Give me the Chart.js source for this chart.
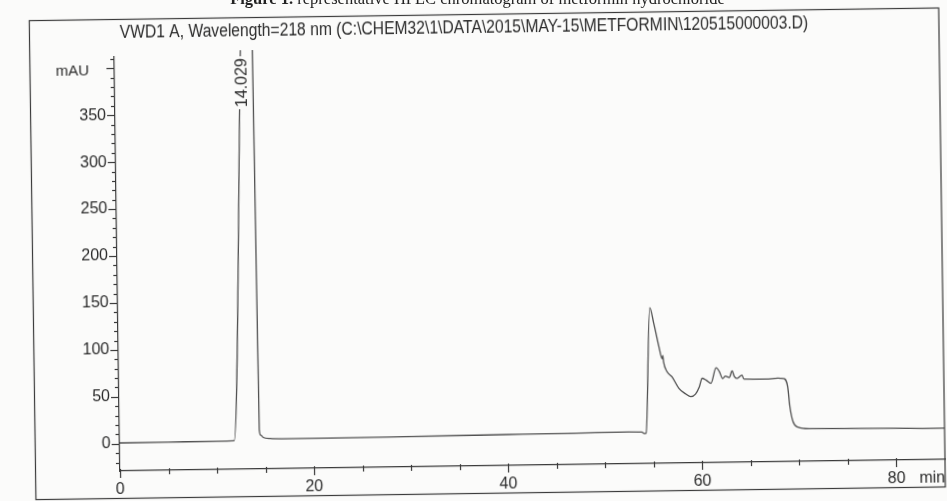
<!DOCTYPE html>
<html>
<head>
<meta charset="utf-8">
<script src="https://cdn.jsdelivr.net/npm/chart.js@4.4.1/dist/chart.umd.min.js"></script>
<style>
  html, body { margin: 0; padding: 0; background: #fbfbfa; }
  #page { position: relative; width: 947px; height: 501px; overflow: hidden; background: #fbfbfa; }
  #caption { position: absolute; left: 4px; top: -11px; width: 947px; text-align: center;
             font: 16.5px "Liberation Serif", "Times New Roman", serif; color: #222; white-space: nowrap; }
  #wrap { position: absolute; left: 0; top: 0; width: 947px; height: 501px;
          transform: rotate(-0.8deg); transform-origin: 473px 250px; }
</style>
</head>
<body>
<div id="page">
  <div id="wrap"><canvas id="chart" width="947" height="501"></canvas></div>
  <div id="caption"><b>Figure 1.</b> representative HPLC chromatogram of metformin hydrochloride</div>
</div>
<script>
// retention time (min) and detector signal (mAU)
const retentionTimes = [0, 5, 10, 11.8, 13.0, 14.03, 14.24, 14.4, 14.55, 14.8, 15.5, 17, 20, 30, 40, 47, 52.5, 53.8, 54.1, 54.25,
  54.8, 55.2, 55.7, 56.0, 56.08, 56.15, 56.5, 57.0, 57.7, 58.4, 58.9, 59.4, 59.8, 60.1, 60.5, 61.0, 61.55, 61.9, 62.2, 62.5,
  62.9, 63.2, 63.4, 63.7, 64.2, 64.4, 66.7, 67.9, 68.5, 68.9, 69.1, 69.4, 69.9, 71.1, 75.2, 84.8, 85];
const absorbance = [0.8, 1.0, 1.2, 1.5, 417, 760, 417, 13, 7, 4.6, 3.3, 2.9, 2.8, 3.3, 4.0, 4.5, 5.0, 4.6, 3.0, 3.5,
  137, 120, 95, 82.5, 86, 79, 68.5, 63, 50.5, 44.5, 41.6, 44.4, 52, 61, 59, 55.5, 72, 67.5, 60.5, 63,
  61.5, 68.5, 62.8, 60.4, 63.8, 59.5, 59.2, 60, 59.6, 50.7, 29.6, 13.6, 7.6, 5.7, 5.5, 4.4, 4.4];
const xTickLabels = [0, 20, 40, 60, 80];
const yTickLabels = [0, 50, 100, 150, 200, 250, 300, 350];
const titleText = 'VWD1 A, Wavelength=218 nm (C:\\CHEM32\\1\\DATA\\2015\\MAY-15\\METFORMIN\\120515000003.D)';
const peakLabel = '14.029';

const ink = '#2b2b2b';
const sans = '"Liberation Sans", Arial, sans-serif';

const decor = {
  id: 'decor',
  afterDraw(chart) {
    const {ctx, chartArea: a, scales: {x, y}} = chart;
    ctx.save();
    ctx.strokeStyle = '#3a3a3a';
    ctx.lineWidth = 1.2;
    // outer frame
    ctx.strokeRect(32.5, 14.5, a.right - 32.5, 479);
    // y tick marks, minor every 10, major every 50
    for (let v = -20; v <= 410; v += 10) {
      const py = Math.round(y.getPixelForValue(v)) + 0.5;
      const len = v % 50 === 0 ? 8 : 4;
      ctx.beginPath(); ctx.moveTo(a.left - len, py); ctx.lineTo(a.left, py); ctx.stroke();
    }
    // x tick marks every 5 min
    for (let t = 0; t <= 80; t += 5) {
      const px = Math.round(x.getPixelForValue(t)) + 0.5;
      const len = t % 20 === 0 ? 7 : 4;
      ctx.beginPath(); ctx.moveTo(px, a.bottom - 2); ctx.lineTo(px, a.bottom + len); ctx.stroke();
    }
    ctx.fillStyle = ink;
    ctx.textAlign = 'center';
    ctx.textBaseline = 'alphabetic';
    // narrow title, like the instrument's condensed font
    ctx.save();
    ctx.translate(467, 33);
    ctx.scale(0.87, 1);
    ctx.font = '18px ' + sans;
    ctx.fillText(titleText, 0, 0);
    ctx.restore();
    ctx.font = '15px ' + sans;
    ctx.fillText('mAU', 75, 70);
    ctx.textAlign = 'right';
    ctx.font = '16px ' + sans;
    ctx.fillText('min', a.right, 489);
    // retention time label, rotated, on a blank patch
    const lx = x.getPixelForValue(12.96);
    ctx.translate(lx + 2, a.top + 52);
    ctx.rotate(-Math.PI / 2);
    ctx.font = '16px ' + sans;
    const w = ctx.measureText(peakLabel).width;
    ctx.fillStyle = '#fbfbfa';
    ctx.fillRect(-2, -8, w + 4, 16);
    ctx.fillStyle = ink;
    ctx.textAlign = 'left';
    ctx.textBaseline = 'middle';
    ctx.fillText(peakLabel, 0, 0);
    ctx.restore();
  }
};

new Chart(document.getElementById('chart'), {
  type: 'line',
  data: {
    datasets: [{
      data: retentionTimes.map((t, i) => ({x: t, y: absorbance[i]})),
      borderColor: '#505050',
      borderWidth: 1.3,
      pointRadius: 0,
      cubicInterpolationMode: 'monotone',
      clip: {left: 0, top: 5, right: 0, bottom: 0}
    }]
  },
  options: {
    responsive: false,
    animation: false,
    layout: {padding: {left: 0, top: 52, right: 5, bottom: 0}},
    plugins: {legend: {display: false}, tooltip: {enabled: false}},
    scales: {
      x: {
        type: 'linear', min: 0, max: 85,
        afterFit: s => { s.height = 35; },
        grid: {display: false, drawTicks: false},
        border: {display: true, color: '#3a3a3a', width: 1.2},
        ticks: {
          stepSize: 20, padding: 9, autoSkip: false, maxRotation: 0, color: ink,
          font: {family: sans, size: 16},
          callback: v => xTickLabels.includes(v) ? String(v) : null
        }
      },
      y: {
        min: -29, max: 412,
        afterFit: s => { s.width = 117; },
        grid: {display: false, drawTicks: false},
        border: {display: true, color: '#3a3a3a', width: 1.2},
        ticks: {
          stepSize: 50, padding: 9, color: ink,
          font: {family: sans, size: 16},
          callback: v => yTickLabels.includes(v) ? String(v) : null
        }
      }
    }
  },
  plugins: [decor]
});
</script>
</body>
</html>
